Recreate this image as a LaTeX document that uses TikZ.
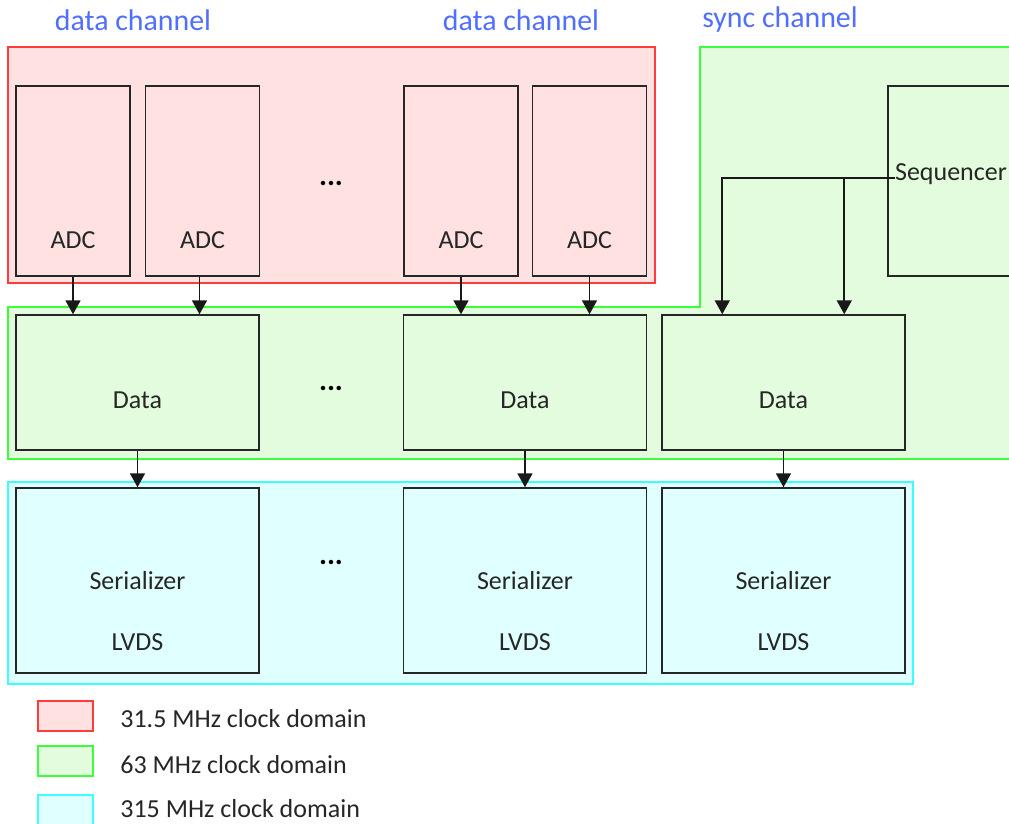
\documentclass[tikz,border=0pt]{standalone}
\usepackage{fontspec}
\setmainfont{Carlito}
\usetikzlibrary{calc,arrows.meta}
\definecolor{redline}{RGB}{255,60,60}
\definecolor{redfill}{RGB}{255,225,225}
\definecolor{greenline}{RGB}{60,255,60}
\definecolor{greenfill}{RGB}{228,252,222}
\definecolor{cyanline}{RGB}{60,255,255}
\definecolor{cyanfill}{RGB}{224,255,255}
\definecolor{titleblue}{RGB}{80,110,255}
\tikzset{
	blk/.style={draw=black!85, line width=0.85pt, inner sep=0pt},
	adcbox/.style={blk, minimum width=2.28cm, minimum height=3.8cm},
	databox/.style={blk, minimum width=4.86cm, minimum height=2.7cm},
	serbox/.style={blk, minimum width=4.86cm, minimum height=3.7cm},
	lbl/.style={font=\fontsize{14.8}{17}\selectfont, text=black!85, inner sep=0pt},
	title/.style={font=\fontsize{17}{20}\selectfont, text=titleblue, inner sep=0pt},
	dots/.style={font=\fontsize{17}{20}\selectfont\bfseries, inner sep=0pt},
	legbox/.style={line width=1.1pt, minimum width=1.1cm, minimum height=0.6cm, inner sep=0pt},
	arr/.style={line width=1pt, draw=black!90, -{Triangle[length=0.28cm,width=0.3cm]}}
}

\begin{document}
\begin{tikzpicture}[x=0.02cm, y=-0.02cm]
		%%%%% START %%%%%
		\useasboundingbox (0,0) rectangle (1009,823);
		
		% clock domains
		\draw[line width=1.1pt, draw=redline, fill=redfill] (8,47) rectangle (655,283);
		\draw[line width=1.1pt, draw=greenline, fill=greenfill] (8,307) -- (700,307) -- (700,47) -- (1030,47) -- (1030,459) -- (8,459) -- cycle;
		\draw[line width=1.1pt, draw=cyanline, fill=cyanfill] (8,482) rectangle (913,684);
		
		\node[title] (tdata1) at (133,20) {data channel};
		\node[title] (tdata2) at (521,20) {data channel};
		\node[title] (tsync) at (780,20) {sync channel};
		
		% ADC row
		\node[adcbox] (adc1) at (73,181) {};
		\node[adcbox] (adc2) at (202.5,181) {};
		\node[adcbox] (adc3) at (461,181) {};
		\node[adcbox] (adc4) at (589.5,181) {};
		\node[lbl] (adc1t) at ($(adc1.south)+(0,-37)$) {ADC};
		\node[lbl] (adc2t) at ($(adc2.south)+(0,-37)$) {ADC};
		\node[lbl] (adc3t) at ($(adc3.south)+(0,-37)$) {ADC};
		\node[lbl] (adc4t) at ($(adc4.south)+(0,-37)$) {ADC};
		\node[dots] (dots1) at (331,183) {...};
		
		\node[blk, minimum width=2.52cm, minimum height=3.8cm] (seq) at (951,181) {};
		\node[lbl] (seqt) at (951,174) {Sequencer};
		
		% Data row
		\node[databox] (data1) at (137.5,382.5) {};
		\node[databox] (data2) at (525,382.5) {};
		\node[databox] (data3) at (783.5,382.5) {};
		\node[lbl] (data1t) at ($(data1.center)+(0,18)$) {Data};
		\node[lbl] (data2t) at ($(data2.center)+(0,18)$) {Data};
		\node[lbl] (data3t) at ($(data3.center)+(0,18)$) {Data};
		\node[dots] (dots2) at (331,388) {...};
		
		% Serializer row
		\node[serbox] (ser1) at (137.5,580.5) {};
		\node[serbox] (ser2) at (525,580.5) {};
		\node[serbox] (ser3) at (783.5,580.5) {};
		\node[lbl] (ser1t) at (ser1.center) {Serializer};
		\node[lbl] (ser2t) at (ser2.center) {Serializer};
		\node[lbl] (ser3t) at (ser3.center) {Serializer};
		\node[lbl] (lvds1) at ($(ser1.center)+(0,62)$) {LVDS};
		\node[lbl] (lvds2) at ($(ser2.center)+(0,62)$) {LVDS};
		\node[lbl] (lvds3) at ($(ser3.center)+(0,62)$) {LVDS};
		\node[dots] (dots3) at (331,562) {...};
		
		% connections
		\draw[arr] (adc1.south) -- (adc1.south |- data1.north);
		\draw[arr] ($(adc2.south)+(-3,0)$) -- ($(adc2.south |- data1.north)+(-3,0)$);
		\draw[arr] (adc3.south) -- (adc3.south |- data2.north);
		\draw[arr] (adc4.south) -- (adc4.south |- data2.north);
		\draw[arr] (data1.south) -- (ser1.north);
		\draw[arr] (data2.south) -- (ser2.north);
		\draw[arr] (data3.south) -- (ser3.north);
		
		\coordinate (tap) at (seqt.west |- 0,178);
		\coordinate (in1) at ($(data3.north west)+(61,0)$);
		\coordinate (in2) at ($(data3.north west)+(183,0)$);
		\draw[arr] (tap) -| (in1);
		\draw[arr] (in2 |- tap) -- (in2);
		
		% legend
		\node[legbox, draw=redline, fill=redfill] (leg1) at (65.5,716) {};
		\node[legbox, draw=greenline, fill=greenfill] (leg2) at (65.5,761) {};
		\node[legbox, draw=cyanline, fill=cyanfill] (leg3) at (65.5,810) {};
		\node[lbl, anchor=west] (leg1t) at (120,719) {31.5 MHz clock domain};
		\node[lbl, anchor=west] (leg2t) at (120,765) {63 MHz clock domain};
		\node[lbl, anchor=west] (leg3t) at (120,809) {315 MHz clock domain};
		
		%%%%% END %%%%%
	\end{tikzpicture}
\end{document}
